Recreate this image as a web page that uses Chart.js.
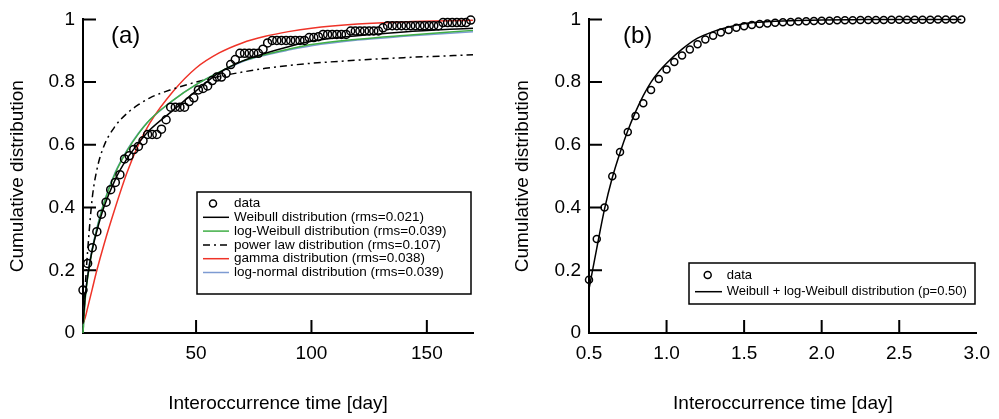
<!DOCTYPE html>
<html>
<head>
<meta charset="utf-8">
<script src="https://cdn.jsdelivr.net/npm/chart.js@4.4.1/dist/chart.umd.min.js"></script>
<style>
html, body { margin: 0; padding: 0; background: #fff; }
#wrap { position: relative; width: 999px; height: 419px; }
canvas { position: absolute; top: 0; }
#chartA { left: 0; }
#chartB { left: 500px; }
</style>
</head>
<body>
<div id="wrap">
  <canvas id="chartA" width="500" height="419"></canvas>
  <canvas id="chartB" width="499" height="419"></canvas>
</div>
<script>
// ---- panel (a): observed cumulative distribution ----
var timeA = [1, 3, 5, 7, 9, 11, 13, 15, 17, 19, 21, 23, 25, 27, 29, 31, 33, 35, 37, 39,
    41, 43, 45, 47, 49, 51, 53, 55, 57, 59, 61, 63, 65, 67, 69, 71, 73, 75, 77, 79,
    81, 83, 85, 87, 89, 91, 93, 95, 97, 99, 101, 103, 105, 107, 109, 111, 113, 115, 117, 119,
    121, 123, 125, 127, 129, 131, 133, 135, 137, 139, 141, 143, 145, 147, 149, 151, 153, 155, 157, 159,
    161, 163, 165, 167, 169];
var cdfA = [0.137, 0.222, 0.272, 0.323, 0.379, 0.417, 0.457, 0.48, 0.505, 0.555, 0.565, 0.585, 0.595, 0.613, 0.633, 0.633, 0.633, 0.65, 0.68, 0.72,
    0.72, 0.72, 0.72, 0.738, 0.75, 0.775, 0.78, 0.788, 0.805, 0.816, 0.816, 0.828, 0.856, 0.872, 0.892, 0.892, 0.892, 0.892, 0.892, 0.905,
    0.925, 0.933, 0.933, 0.933, 0.933, 0.933, 0.933, 0.933, 0.933, 0.942, 0.942, 0.945, 0.952, 0.952, 0.952, 0.952, 0.952, 0.952, 0.963, 0.963,
    0.963, 0.963, 0.963, 0.963, 0.963, 0.973, 0.98, 0.98, 0.98, 0.98, 0.98, 0.98, 0.98, 0.98, 0.98, 0.98, 0.98, 0.98, 0.99, 0.99,
    0.99, 0.99, 0.99, 0.99, 0.998];

// fitted curves for (a), read at these times
var fitTimeA = [1, 2, 3, 5, 7, 10, 15, 20, 25, 30, 40, 50, 60, 70, 80, 90, 100, 120, 140, 170];
var weibullA = [0.03, 0.12, 0.18, 0.265, 0.325, 0.40, 0.49, 0.555, 0.605, 0.648, 0.71, 0.772, 0.83, 0.867, 0.892, 0.913, 0.93, 0.948, 0.96, 0.972];
var logWeibullA = [0.0, 0.11, 0.175, 0.265, 0.33, 0.412, 0.51, 0.58, 0.635, 0.68, 0.742, 0.792, 0.832, 0.867, 0.888, 0.905, 0.92, 0.937, 0.949, 0.965];
var powerLawA = [0.0, 0.15, 0.26, 0.43, 0.52, 0.595, 0.66, 0.70, 0.728, 0.75, 0.778, 0.80, 0.818, 0.832, 0.844, 0.853, 0.86, 0.87, 0.878, 0.887];
var gammaA = [0.03, 0.05, 0.08, 0.14, 0.20, 0.28, 0.40, 0.51, 0.60, 0.67, 0.77, 0.845, 0.893, 0.925, 0.946, 0.961, 0.972, 0.985, 0.992, 0.997];
var logNormalA = [0.0, 0.12, 0.185, 0.27, 0.335, 0.415, 0.513, 0.582, 0.637, 0.68, 0.742, 0.792, 0.831, 0.865, 0.886, 0.902, 0.916, 0.934, 0.946, 0.961];

// ---- panel (b) ----
var timeB = [0.5, 0.55, 0.6, 0.65, 0.7, 0.75, 0.8, 0.85, 0.9, 0.95, 1.0, 1.05, 1.1, 1.15, 1.2, 1.25, 1.3, 1.35, 1.4, 1.45,
    1.5, 1.55, 1.6, 1.65, 1.7, 1.75, 1.8, 1.85, 1.9, 1.95, 2.0, 2.05, 2.1, 2.15, 2.2, 2.25, 2.3, 2.35, 2.4, 2.45,
    2.5, 2.55, 2.6, 2.65, 2.7, 2.75, 2.8, 2.85, 2.9];
var cdfB = [0.17, 0.30, 0.40, 0.50, 0.577, 0.641, 0.692, 0.733, 0.775, 0.81, 0.84, 0.864, 0.885, 0.904, 0.921, 0.936, 0.948, 0.958, 0.966, 0.973,
    0.978, 0.982, 0.985, 0.987, 0.989, 0.991, 0.992, 0.993, 0.994, 0.995, 0.996, 0.996, 0.997, 0.997, 0.997, 0.998, 0.998, 0.998, 0.998, 0.999,
    0.999, 0.999, 0.999, 0.999, 0.999, 1.0, 1.0, 1.0, 1.0];
var fitTimeB = [0.5, 0.55, 0.6, 0.65, 0.7, 0.75, 0.8, 0.85, 0.9, 0.95, 1.0, 1.1, 1.2, 1.3, 1.4, 1.5, 1.6, 1.7, 1.8, 2.0, 2.2, 2.5, 2.9];
var mixB = [0.14, 0.27, 0.395, 0.495, 0.575, 0.645, 0.705, 0.757, 0.80, 0.833, 0.86, 0.905, 0.94, 0.961, 0.976, 0.986, 0.991, 0.994, 0.996, 0.998, 0.999, 1.0, 1.0];

// ticks
var xTicksA = [50, 100, 150];
var xTicksB = [0.5, 1.0, 1.5, 2.0, 2.5, 3.0];
var xMarksB = [1.0, 1.5, 2.0, 2.5];
var yMarks = [0.2, 0.4, 0.6, 0.8, 1.0];

var FONT = '"Liberation Sans", Arial, Helvetica, sans-serif';
Chart.defaults.font.family = FONT;
Chart.defaults.font.size = 19;
Chart.defaults.color = '#000';

function pts(xs, ys) {
    return xs.map(function (x, i) { return { x: x, y: ys[i] }; });
}

function dataSet(label, xs, ys, r) {
    return {
        label: label, data: pts(xs, ys), showLine: false,
        pointStyle: 'circle', pointRadius: r, pointHoverRadius: r,
        pointBorderWidth: 1.5, borderColor: '#000', backgroundColor: 'rgba(0,0,0,0)', clip: false
    };
}

function curve(label, xs, ys, color, dash) {
    return {
        label: label, data: pts(xs, ys), showLine: true, pointRadius: 0,
        borderColor: color, borderWidth: 1.5, borderDash: dash || [],
        cubicInterpolationMode: 'monotone', fill: false, clip: false
    };
}

// inward tick marks, panel letter and boxed legend
var decor = {
    id: 'decor',
    afterDraw: function (chart, args, o) {
        var ctx = chart.ctx, a = chart.chartArea;
        var sx = chart.scales.x, sy = chart.scales.y;
        ctx.save();
        ctx.strokeStyle = '#000';
        ctx.lineWidth = 2;
        ctx.beginPath();
        o.xMarks.forEach(function (v) {
            var p = sx.getPixelForValue(v);
            ctx.moveTo(p, a.bottom); ctx.lineTo(p, a.bottom - 13);
        });
        o.yMarks.forEach(function (v) {
            var p = sy.getPixelForValue(v);
            ctx.moveTo(a.left, p); ctx.lineTo(a.left + 13, p);
        });
        ctx.stroke();

        ctx.fillStyle = '#000';
        ctx.font = '24px ' + FONT;
        ctx.textBaseline = 'middle';
        ctx.textAlign = 'left';
        ctx.fillText(o.panel, a.left + o.panelDx, a.top + 17);

        var L = o.legend;
        ctx.fillStyle = '#fff';
        ctx.fillRect(L.x, L.y, L.w, L.h);
        ctx.lineWidth = 1.5;
        ctx.strokeRect(L.x, L.y, L.w, L.h);
        ctx.font = L.size + 'px ' + FONT;
        chart.data.datasets.forEach(function (ds, i) {
            var cy = L.y + L.first + i * L.row;
            if (ds.showLine) {
                ctx.strokeStyle = ds.borderColor;
                ctx.lineWidth = ds.borderWidth;
                ctx.setLineDash(ds.borderDash);
                ctx.beginPath();
                ctx.moveTo(L.x + 6, cy); ctx.lineTo(L.x + L.lineEnd, cy);
                ctx.stroke();
                ctx.setLineDash([]);
            } else {
                ctx.strokeStyle = '#000';
                ctx.lineWidth = 1.5;
                ctx.beginPath();
                ctx.arc(L.x + L.dot, cy, 3.5, 0, Math.PI * 2);
                ctx.stroke();
            }
            ctx.fillStyle = '#000';
            ctx.fillText(ds.label, L.x + L.text, cy);
        });
        ctx.restore();
    }
};

function options(xMin, xMax, xTicks, xFmt, yWidth, yTitlePad, padRight, deco) {
    return {
        responsive: false,
        animation: false,
        events: [],
        layout: { padding: { left: 0, right: padRight, top: 13, bottom: 0 } },
        plugins: { legend: { display: false }, tooltip: { enabled: false }, decor: deco },
        scales: {
            x: {
                type: 'linear', min: xMin, max: xMax,
                grid: { display: false, drawTicks: false },
                border: { display: true, color: '#000', width: 2 },
                afterBuildTicks: function (s) { s.ticks = xTicks.map(function (v) { return { value: v }; }); },
                afterFit: function (s) { s.height = 86; },
                ticks: { padding: 9, maxRotation: 0, autoSkip: false, callback: xFmt },
                title: { display: true, text: 'Interoccurrence time [day]', padding: { top: 0, bottom: 4 } }
            },
            y: {
                min: 0, max: 1,
                grid: { display: false, drawTicks: false },
                border: { display: true, color: '#000', width: 2 },
                ticks: { stepSize: 0.2, padding: 8, callback: function (v) { return String(Number(v.toFixed(1))); } },
                afterFit: function (s) { s.width = yWidth; },
                title: { display: true, text: 'Cumulative distribution', padding: { top: yTitlePad, bottom: 0 } }
            }
        }
    };
}

new Chart(document.getElementById('chartA'), {
    type: 'scatter',
    data: {
        datasets: [
            dataSet('data', timeA, cdfA, 4),
            curve('Weibull distribution (rms=0.021)', fitTimeA, weibullA, '#000000'),
            curve('log-Weibull distribution (rms=0.039)', fitTimeA, logWeibullA, '#3fae45'),
            curve('power law distribution (rms=0.107)', fitTimeA, powerLawA, '#000000', [7, 4, 2, 4]),
            curve('gamma distribution (rms=0.038)', fitTimeA, gammaA, '#ef3328'),
            curve('log-normal distribution (rms=0.039)', fitTimeA, logNormalA, '#7d9bd2')
        ]
    },
    options: options(1, 170, xTicksA, function (v) { return v; }, 83, 6.6, 27, {
        xMarks: xTicksA, yMarks: yMarks, panel: '(a)', panelDx: 28,
        legend: { x: 197, y: 192, w: 274, h: 102, first: 11.5, row: 13.8, dot: 16, lineEnd: 32, text: 37, size: 13.5 }
    }),
    plugins: [decor]
});

new Chart(document.getElementById('chartB'), {
    type: 'scatter',
    data: {
        datasets: [
            dataSet('data', timeB, cdfB, 3.5),
            curve('Weibull + log-Weibull distribution (p=0.50)', fitTimeB, mixB, '#000000')
        ]
    },
    options: options(0.5, 3.0, xTicksB, function (v) { return v.toFixed(1); }, 89, 11.6, 20, {
        xMarks: xMarksB, yMarks: yMarks, panel: '(b)', panelDx: 34,
        legend: { x: 189, y: 263, w: 286, h: 41, first: 12, row: 16.7, dot: 18.7, lineEnd: 33, text: 37.7, size: 13 }
    }),
    plugins: [decor]
});
</script>
</body>
</html>
